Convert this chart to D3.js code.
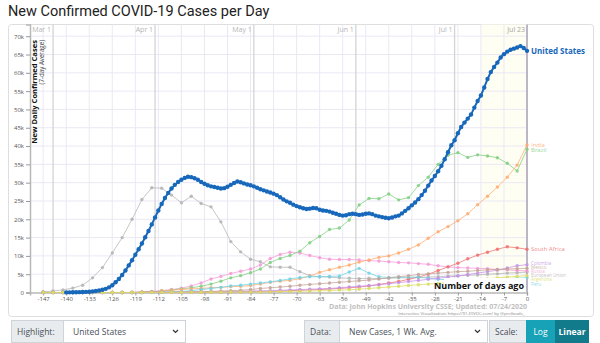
<!DOCTYPE html>
<html>
<head>
<meta charset="utf-8">
<script src="https://cdn.jsdelivr.net/npm/d3@7"></script>
<style>
  body { margin: 0; background: #fff; }
  svg text { font-family: "Open Sans", "DejaVu Sans", sans-serif; }
</style>
</head>
<body>
<div id="chart"></div>
<script>
// values are 7-day average new cases, in thousands
const usStartDay = -140;
const usCases = [
  0.03, 0.04, 0.06, 0.08, 0.1, 0.13, 0.17, 0.22, 0.3, 0.4,
  0.55, 0.75, 1.0, 1.4, 2.0, 2.8, 3.7, 4.8, 6.0, 7.4,
  8.8, 10.3, 11.8, 13.4, 15.1, 16.8, 18.6, 20.5, 22.4, 24.2,
  25.8, 27.2, 28.4, 29.4, 30.2, 30.8, 31.3, 31.6, 31.5, 31.2,
  30.8, 30.2, 29.7, 29.3, 29.0, 28.8, 28.6, 28.4, 28.5, 28.9,
  29.4, 29.9, 30.3, 30.1, 29.8, 29.5, 29.3, 29.0, 28.6, 28.2,
  27.9, 27.6, 27.3, 27.0, 26.6, 26.0, 25.4, 24.9, 24.5, 24.0,
  23.6, 23.3, 23.0, 22.8, 22.9, 23.1, 23.0, 22.6, 22.4, 22.3,
  22.1, 21.8, 21.5, 21.2, 21.0, 21.1, 21.4, 21.5, 21.4, 21.2,
  21.3, 21.5, 21.6, 21.4, 21.0, 20.8, 20.6, 20.4, 20.3, 20.5,
  20.8, 21.0, 21.6, 22.3, 23.0, 23.8, 24.6, 25.5, 26.6, 27.8,
  29.2, 30.6, 31.8, 33.1, 34.6, 36.4, 38.3, 40.2, 41.6, 43.5,
  45.2, 46.4, 47.5, 48.6, 50.5, 52.3, 53.8, 56.0, 58.3, 60.2,
  61.6, 62.8, 64.2, 65.1, 65.8, 66.3, 66.6, 66.9, 67.3, 66.8,
  66.0
];

const otherDays = [-147, -144, -141, -138, -135, -132, -129, -126, -123, -120,
  -117, -114, -111, -108, -105, -102, -99, -96, -93, -90,
  -87, -84, -81, -78, -75, -72, -69, -66, -63, -60,
  -57, -54, -51, -48, -45, -42, -39, -36, -33, -30,
  -27, -24, -21, -18, -15, -12, -9, -6, -3, 0];

const euCases = [0.2, 0.4, 0.7, 1.2, 2.0, 4.0, 6.8, 10.8, 15.0, 20.0,
  25.4, 28.6, 28.5, 26.6, 24.5, 26.3, 24.3, 23.4, 19.3, 13.9,
  11.1, 9.1, 8.4, 7.0, 6.9, 6.9, 5.7, 4.6, 4.3, 4.2,
  4.0, 3.9, 3.8, 3.9, 3.8, 3.9, 4.0, 4.0, 4.1, 4.2,
  4.3, 4.5, 4.6, 4.7, 4.8, 5.0, 5.1, 5.3, 5.4, 5.6];
const russiaCases = [0, 0, 0, 0, 0, 0, 0, 0, 0, 0,
  0.1, 0.3, 0.5, 0.8, 1.2, 1.8, 2.6, 3.7, 4.4, 5.2,
  5.8, 6.4, 7.5, 9.3, 10.4, 11.0, 10.8, 10.1, 9.5, 9.1,
  9.0, 9.0, 8.9, 8.7, 8.6, 8.4, 8.2, 8.1, 7.9, 7.7,
  7.3, 7.0, 6.8, 6.7, 6.6, 6.5, 6.3, 6.2, 6.0, 5.9];
const brazilCases = [0, 0, 0, 0, 0, 0, 0, 0, 0, 0,
  0.1, 0.2, 0.4, 0.7, 1.0, 1.3, 1.7, 2.3, 3.1, 4.0,
  4.6, 5.4, 6.4, 8.2, 9.3, 10.1, 11.3, 13.6, 15.3, 17.2,
  17.6, 19.8, 23.9, 25.7, 25.6, 26.9, 25.3, 25.9, 29.2, 31.5,
  35.0, 37.5, 38.2, 36.9, 37.6, 37.3, 36.8, 35.3, 33.2, 39.1];
const indiaCases = [0, 0, 0, 0, 0, 0, 0, 0, 0, 0,
  0.1, 0.2, 0.4, 0.6, 0.8, 1.0, 1.1, 1.3, 1.4, 1.6,
  1.7, 1.9, 2.3, 2.8, 3.1, 3.3, 3.8, 4.5, 5.5, 6.2,
  6.9, 7.5, 8.3, 8.9, 9.6, 10.0, 10.8, 11.8, 13.0, 14.8,
  16.6, 18.0, 19.6, 21.5, 24.0, 26.3, 28.8, 31.5, 34.8, 40.3];
const southAfricaCases = [0, 0, 0, 0, 0, 0, 0, 0, 0, 0,
  0.1, 0.1, 0.1, 0.1, 0.1, 0.1, 0.1, 0.15, 0.15, 0.2,
  0.2, 0.25, 0.3, 0.3, 0.4, 0.5, 0.6, 0.7, 0.8, 0.95,
  1.1, 1.3, 1.5, 1.8, 2.2, 2.6, 3.0, 3.6, 4.2, 5.0,
  6.0, 7.0, 8.0, 9.2, 10.2, 11.0, 11.8, 12.5, 12.2, 11.8];
const peruCases = [0, 0, 0, 0, 0, 0, 0, 0, 0, 0,
  0, 0.05, 0.1, 0.2, 0.3, 0.5, 0.8, 1.1, 1.4, 1.8,
  2.0, 2.3, 2.6, 2.9, 3.3, 3.7, 4.1, 4.3, 4.3, 4.4,
  4.5, 5.6, 6.6, 5.3, 4.3, 4.1, 4.2, 4.2, 4.2, 3.9,
  3.6, 3.5, 3.4, 3.4, 3.5, 3.6, 3.7, 3.8, 3.9, 4.0];
const colombiaCases = [0, 0, 0, 0, 0, 0, 0, 0, 0, 0,
  0, 0.05, 0.1, 0.1, 0.15, 0.2, 0.2, 0.25, 0.3, 0.3,
  0.35, 0.4, 0.45, 0.5, 0.6, 0.7, 0.8, 0.9, 1.0, 1.1,
  1.3, 1.5, 1.7, 1.9, 2.1, 2.4, 2.7, 3.0, 3.3, 3.6,
  3.9, 4.2, 4.5, 4.9, 5.3, 5.7, 6.1, 6.7, 7.3, 7.6];
const mexicoCases = [0, 0, 0, 0, 0, 0, 0, 0, 0, 0,
  0, 0.02, 0.03, 0.05, 0.1, 0.15, 0.2, 0.3, 0.4, 0.5,
  0.6, 0.8, 1.1, 1.3, 1.5, 1.7, 2.0, 2.2, 2.4, 2.6,
  2.8, 3.0, 3.2, 3.4, 3.7, 4.0, 4.3, 4.6, 4.9, 5.1,
  5.3, 5.5, 5.7, 5.8, 6.0, 6.2, 6.3, 6.4, 6.5, 6.6];
const argentinaCases = [0, 0, 0, 0, 0, 0, 0, 0, 0, 0,
  0.02, 0.03, 0.04, 0.05, 0.05, 0.06, 0.08, 0.1, 0.1, 0.12,
  0.12, 0.13, 0.15, 0.2, 0.25, 0.3, 0.35, 0.4, 0.45, 0.55,
  0.65, 0.75, 0.9, 1.1, 1.3, 1.5, 1.7, 1.9, 2.1, 2.3,
  2.5, 2.7, 2.9, 3.1, 3.4, 3.7, 4.0, 4.2, 4.4, 4.6];

const otherNames = ['European Union', 'Russia', 'Brazil', 'India', 'South Africa',
  'Peru', 'Colombia', 'Mexico', 'Argentina'];
const otherColors = ['#b3b3b3', '#f49ad6', '#7fcf7f', '#ffaa6e', '#ef6f6f',
  '#6fd3e6', '#c592e8', '#c4a397', '#d9dc62'];
const otherValues = [euCases, russiaCases, brazilCases, indiaCases, southAfricaCases,
  peruCases, colombiaCases, mexicoCases, argentinaCases];

const xTicks = d3.range(-147, 1, 7);
const yTicks = d3.range(0, 71, 5);
const monthDays = [-144, -113, -83, -52, -22];
const monthLabels = ['Mar 1', 'Apr 1', 'May 1', 'Jun 1', 'Jul 1'];
const lastDayLabel = 'Jul 23';

const width = 600, height = 343;
const usColor = '#1768bb';

const svg = d3.select('#chart').append('svg')
  .attr('width', width)
  .attr('height', height);

svg.append('text')
  .attr('x', 8).attr('y', 16)
  .style('font-family', 'Roboto, sans-serif')
  .style('font-size', '14.5px')
  .attr('fill', '#222')
  .text('New Confirmed COVID-19 Cases per Day');

// panel
svg.append('rect')
  .attr('x', 8.5).attr('y', 24.5)
  .attr('width', 585).attr('height', 292)
  .attr('rx', 3)
  .attr('fill', '#fff')
  .attr('stroke', '#dedede');

const x = d3.scaleLinear().domain([-151, 0]).range([30, 527]);
const y = d3.scaleLinear().domain([0, 73.2]).range([292.5, 24.5]);

const plot = svg.append('g');

// last two weeks shading
plot.append('rect')
  .attr('x', x(-14)).attr('y', y(73.2))
  .attr('width', x(0) - x(-14)).attr('height', y(0) - y(73.2))
  .attr('fill', '#fefef3');

// grid
plot.selectAll('.vgrid').data(xTicks).enter().append('line')
  .attr('x1', d => x(d)).attr('x2', d => x(d))
  .attr('y1', y(73.2)).attr('y2', y(0))
  .attr('stroke', '#ebe8f4').attr('stroke-width', 1);
plot.selectAll('.hgrid').data(yTicks.slice(1)).enter().append('line')
  .attr('x1', x(-151)).attr('x2', x(0))
  .attr('y1', d => y(d)).attr('y2', d => y(d))
  .attr('stroke', '#ebe8f4').attr('stroke-width', 1);

// month lines
plot.selectAll('.month').data(monthDays).enter().append('line')
  .attr('x1', d => x(d)).attr('x2', d => x(d))
  .attr('y1', y(73.2)).attr('y2', y(0))
  .attr('stroke', '#d4d4d4').attr('stroke-width', 1.3);
plot.selectAll('.monthlabel').data(monthDays).enter().append('text')
  .attr('x', d => x(d) - 2).attr('y', 32)
  .attr('text-anchor', 'end')
  .style('font-size', '7px')
  .attr('fill', '#b5b5b5')
  .text((d, i) => monthLabels[i]);

plot.append('line')
  .attr('x1', x(0)).attr('x2', x(0))
  .attr('y1', y(73.2)).attr('y2', y(0))
  .attr('stroke', '#aaa2b4').attr('stroke-width', 1.5);
plot.append('text')
  .attr('x', x(0) - 2).attr('y', 32)
  .attr('text-anchor', 'end')
  .style('font-size', '7px')
  .attr('fill', '#a5a5a5')
  .text(lastDayLabel);

// axes
const yAxis = plot.append('g')
  .attr('transform', `translate(${x(-151)},0)`)
  .call(d3.axisLeft(y).tickValues(yTicks).tickSize(4).tickPadding(2).tickFormat(d => d ? d + 'k' : '0'));
const xAxis = plot.append('g')
  .attr('transform', `translate(0,${y(0)})`)
  .call(d3.axisBottom(x).tickValues(xTicks).tickSize(3).tickPadding(1.5).tickFormat(d => String(d)));
[yAxis, xAxis].forEach(g => {
  g.select('.domain').attr('stroke', '#b8b8b8').attr('stroke-width', 1.5);
  g.selectAll('.tick line').attr('stroke', '#999');
  g.selectAll('.tick text')
    .style('font-family', '"Open Sans", sans-serif')
    .style('font-size', '6px')
    .attr('fill', '#555');
});

// y axis title
plot.append('text')
  .attr('transform', 'translate(37,40) rotate(-90)')
  .attr('text-anchor', 'end')
  .style('font-size', '7.6px')
  .style('font-weight', 'bold')
  .attr('fill', '#111')
  .text('New Daily Confirmed Cases');
plot.append('text')
  .attr('transform', 'translate(44,40) rotate(-90)')
  .attr('text-anchor', 'end')
  .style('font-size', '6.2px')
  .attr('fill', '#444')
  .text('(7-day Average)');

const line = d3.line()
  .x(d => x(d.day))
  .y(d => y(d.value));

const others = otherNames.map((name, i) => ({
  name,
  color: otherColors[i],
  points: otherDays.map((day, j) => ({ day, value: otherValues[i][j] }))
}));

const otherG = plot.selectAll('.other').data(others).enter().append('g');
otherG.append('path')
  .attr('d', d => line(d.points))
  .attr('fill', 'none')
  .attr('stroke', d => d.color)
  .attr('stroke-opacity', 0.75)
  .attr('stroke-width', 1);
otherG.selectAll('circle').data(d => d.points.map(p => ({ ...p, color: d.color }))).enter()
  .append('circle')
  .attr('cx', d => x(d.day)).attr('cy', d => y(d.value))
  .attr('r', 1.7)
  .attr('fill', d => d.color)
  .attr('fill-opacity', 0.85);

const usPoints = usCases.map((value, i) => ({ day: usStartDay + i, value }));
plot.append('path')
  .attr('d', line(usPoints))
  .attr('fill', 'none')
  .attr('stroke', usColor)
  .attr('stroke-width', 2);
plot.selectAll('.usdot').data(usPoints).enter().append('circle')
  .attr('cx', d => x(d.day)).attr('cy', d => y(d.value))
  .attr('r', 2.2)
  .attr('fill', usColor);

// end labels, pushed apart so they don't overlap
const labels = others.map(d => ({
  name: d.name, color: d.color,
  ly: y(d.points[d.points.length - 1].value)
})).sort((a, b) => a.ly - b.ly);
const gapFor = ly => ly > 255 ? 4.2 : 5.2;
for (let i = 1; i < labels.length; i++) {
  const gap = gapFor(labels[i - 1].ly);
  if (labels[i].ly - labels[i - 1].ly < gap) labels[i].ly = labels[i - 1].ly + gap;
}
// keep the bottom cluster above the axis title
const maxLabelY = 284;
if (labels[labels.length - 1].ly > maxLabelY) labels[labels.length - 1].ly = maxLabelY;
for (let i = labels.length - 2; i >= 0; i--) {
  const gap = gapFor(labels[i].ly);
  if (labels[i + 1].ly - labels[i].ly < gap) labels[i].ly = labels[i + 1].ly - gap;
}
plot.selectAll('.endlabel').data(labels).enter().append('text')
  .attr('x', x(0) + 4).attr('y', d => d.ly)
  .attr('dy', '0.35em')
  .style('font-size', d => d.ly > 255 ? '4.6px' : '6px')
  .attr('fill', d => d.color)
  .attr('fill-opacity', 0.85)
  .text(d => d.name);

plot.append('text')
  .attr('x', x(0) + 4).attr('y', y(usCases[usCases.length - 1]))
  .attr('dy', '0.35em')
  .style('font-size', '8px')
  .style('font-weight', 'bold')
  .attr('fill', usColor)
  .text('United States');

// x axis title with white backing
plot.append('rect')
  .attr('x', 444).attr('y', 278)
  .attr('width', x(0) - 445).attr('height', 13.5)
  .attr('fill', '#fff');
plot.append('text')
  .attr('x', x(0) - 3).attr('y', 289)
  .attr('text-anchor', 'end')
  .style('font-size', '9px')
  .style('font-weight', 'bold')
  .attr('fill', '#111')
  .text('Number of days ago');

svg.append('text')
  .attr('x', x(0)).attr('y', 309)
  .attr('text-anchor', 'end')
  .style('font-size', '7px')
  .style('font-weight', 'bold')
  .attr('fill', '#c0c0c0')
  .text('Data: John Hopkins University CSSE; Updated: 07/24/2020');
svg.append('text')
  .attr('x', x(0) - 2).attr('y', 314.5)
  .attr('text-anchor', 'end')
  .style('font-size', '4.3px')
  .attr('fill', '#888')
  .text('Interactive Visualization: https://91-DIVOC.com/ by @profwade_');

// controls row
const ctl = svg.append('g').style('font-family', 'Arial, "Liberation Sans", sans-serif');
function addon(x0, w, label) {
  ctl.append('rect').attr('x', x0 + 0.5).attr('y', 320.5).attr('width', w).attr('height', 22)
    .attr('fill', '#e9ecef').attr('stroke', '#ced4da');
  ctl.append('text').attr('x', x0 + 6).attr('y', 334.5)
    .style('font-size', '8.5px').attr('fill', '#495057').text(label);
}
function selectBox(x0, w, label) {
  ctl.append('rect').attr('x', x0 + 0.5).attr('y', 320.5).attr('width', w).attr('height', 22)
    .attr('fill', '#fff').attr('stroke', '#ced4da');
  ctl.append('text').attr('x', x0 + 10).attr('y', 334.5)
    .style('font-size', '8.5px').attr('fill', '#495057').text(label);
  ctl.append('path')
    .attr('d', `M${x0 + w - 12},330 l2.5,2.5 l2.5,-2.5`)
    .attr('fill', 'none').attr('stroke', '#333').attr('stroke-width', 1.2);
}
addon(11, 52, 'Highlight:');
selectBox(63, 122, 'United States');
addon(304, 35, 'Data:');
selectBox(339, 148, 'New Cases, 1 Wk. Avg.');
addon(489, 37, 'Scale:');
ctl.append('rect').attr('x', 526).attr('y', 320).attr('width', 29).attr('height', 23).attr('fill', '#17a2b8');
ctl.append('text').attr('x', 540.5).attr('y', 334.5).attr('text-anchor', 'middle')
  .style('font-size', '8.5px').attr('fill', '#fff').text('Log');
ctl.append('rect').attr('x', 555).attr('y', 320).attr('width', 34).attr('height', 23).attr('fill', '#117a8b');
ctl.append('text').attr('x', 572).attr('y', 334.5).attr('text-anchor', 'middle')
  .style('font-size', '8.5px').style('font-weight', 'bold').attr('fill', '#fff').text('Linear');
</script>
</body>
</html>
